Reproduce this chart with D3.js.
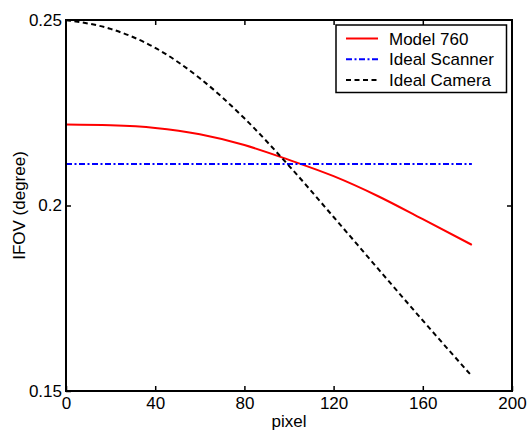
<!DOCTYPE html>
<html>
<head>
<meta charset="utf-8">
<script src="https://cdn.jsdelivr.net/npm/d3@7/dist/d3.min.js"></script>
<style>
  html, body { margin: 0; padding: 0; background: #fff; }
  svg { display: block; font-family: "Liberation Sans", Arial, sans-serif; }
</style>
</head>
<body>
<svg id="chart" width="529" height="432"></svg>
<script>
// Pixel positions along the scan line
const pixels = [0, 20, 40, 60, 80, 100, 120, 140, 160, 182];

// IFOV (degree) of each instrument at those pixels
const model760 = [0.2218, 0.2216, 0.2209, 0.2192, 0.2163, 0.2123, 0.2079, 0.2025, 0.1963, 0.1894];
const idealScanner = [0.2112, 0.2112, 0.2112, 0.2112, 0.2112, 0.2112, 0.2112, 0.2112, 0.2112, 0.2112];
const idealCamera = [0.2500, 0.2476, 0.2425, 0.2343, 0.2235, 0.2107, 0.1969, 0.1829, 0.1690, 0.1540];

const xTicks = [0, 40, 80, 120, 160, 200];
const yTicks = [0.15, 0.2, 0.25];
const yTickLabels = ["0.15", "0.2", "0.25"];

const seriesNames = ["Model 760", "Ideal Scanner", "Ideal Camera"];
const seriesValues = [model760, idealScanner, idealCamera];
const seriesColors = ["#ff0000", "#0000ff", "#000000"];
const seriesDash = [null, "6,2.5,2,2.5", "5,3.5"];

const margin = { left: 66, right: 17, top: 20, bottom: 41 };
const W = 529, H = 432;
const iw = W - margin.left - margin.right;
const ih = H - margin.top - margin.bottom;

const svg = d3.select("#chart");
const g = svg.append("g").attr("transform", `translate(${margin.left},${margin.top})`);

const x = d3.scaleLinear().domain([0, 200]).range([0, iw]);
const y = d3.scaleLinear().domain([0.15, 0.25]).range([ih, 0]);

// Data lines, clipped to the axes box
g.append("clipPath").attr("id", "clip")
  .append("rect").attr("x", 0).attr("y", 0).attr("width", iw).attr("height", ih);

const line = d3.line()
  .x((d, i) => x(pixels[i]))
  .y(d => y(d))
  .curve(d3.curveMonotoneX);

const lines = g.append("g").attr("clip-path", "url(#clip)");
seriesValues.forEach((vals, k) => {
  lines.append("path")
    .attr("d", line(vals))
    .attr("fill", "none")
    .attr("stroke", seriesColors[k])
    .attr("stroke-width", 2)
    .attr("stroke-dasharray", seriesDash[k]);
});

// Axes: ticks pointing inward, mirrored on the opposite sides
const tickLen = 5;
const fontSize = 17;

const xAxis = d3.axisBottom(x).tickValues(xTicks).tickSizeInner(-tickLen).tickSizeOuter(0).tickPadding(6)
  .tickFormat(d3.format("d"));
const xAxisTop = d3.axisTop(x).tickValues(xTicks.slice(1, -1)).tickSizeInner(-tickLen).tickSizeOuter(0).tickFormat("");
const yAxis = d3.axisLeft(y).tickValues(yTicks).tickSizeInner(-tickLen).tickSizeOuter(0).tickPadding(4)
  .tickFormat((d, i) => yTickLabels[i]);
const yAxisRight = d3.axisRight(y).tickValues(yTicks.slice(1, -1)).tickSizeInner(-tickLen).tickSizeOuter(0).tickFormat("");

function styleAxis(sel) {
  sel.select(".domain").remove();
  sel.selectAll(".tick line").attr("stroke", "#000").attr("stroke-width", 1.5);
  sel.selectAll(".tick text").attr("fill", "#000").attr("font-size", fontSize)
    .attr("font-family", "'Liberation Sans', Arial, sans-serif");
}

g.append("g").attr("transform", `translate(0,${ih})`).call(xAxis).call(styleAxis);
g.append("g").call(xAxisTop).call(styleAxis);
g.append("g").call(yAxis).call(styleAxis);
g.append("g").attr("transform", `translate(${iw},0)`).call(yAxisRight).call(styleAxis);

// Axes box
g.append("rect")
  .attr("x", 0).attr("y", 0).attr("width", iw).attr("height", ih)
  .attr("fill", "none").attr("stroke", "#000").attr("stroke-width", 2);

// Axis titles
svg.append("text")
  .attr("x", margin.left + iw / 2).attr("y", 427)
  .attr("text-anchor", "middle").attr("font-size", fontSize).attr("fill", "#000")
  .text("pixel");

svg.append("text")
  .attr("transform", `translate(25,${margin.top + ih / 2}) rotate(-90)`)
  .attr("text-anchor", "middle").attr("font-size", fontSize).attr("fill", "#000")
  .text("IFOV (degree)");

// Legend
const legend = svg.append("g");
legend.append("rect")
  .attr("x", 336).attr("y", 25).attr("width", 170.5).attr("height", 67.5)
  .attr("fill", "#fff").attr("stroke", "#000").attr("stroke-width", 1.5);

const rowY = [38.5, 59.3, 80];
seriesNames.forEach((name, k) => {
  legend.append("line")
    .attr("x1", 346).attr("x2", 378).attr("y1", rowY[k]).attr("y2", rowY[k])
    .attr("stroke", seriesColors[k]).attr("stroke-width", 2)
    .attr("stroke-dasharray", seriesDash[k]);
  legend.append("text")
    .attr("x", 389).attr("y", rowY[k] + 6)
    .attr("font-size", fontSize).attr("fill", "#000")
    .text(name);
});
</script>
</body>
</html>
